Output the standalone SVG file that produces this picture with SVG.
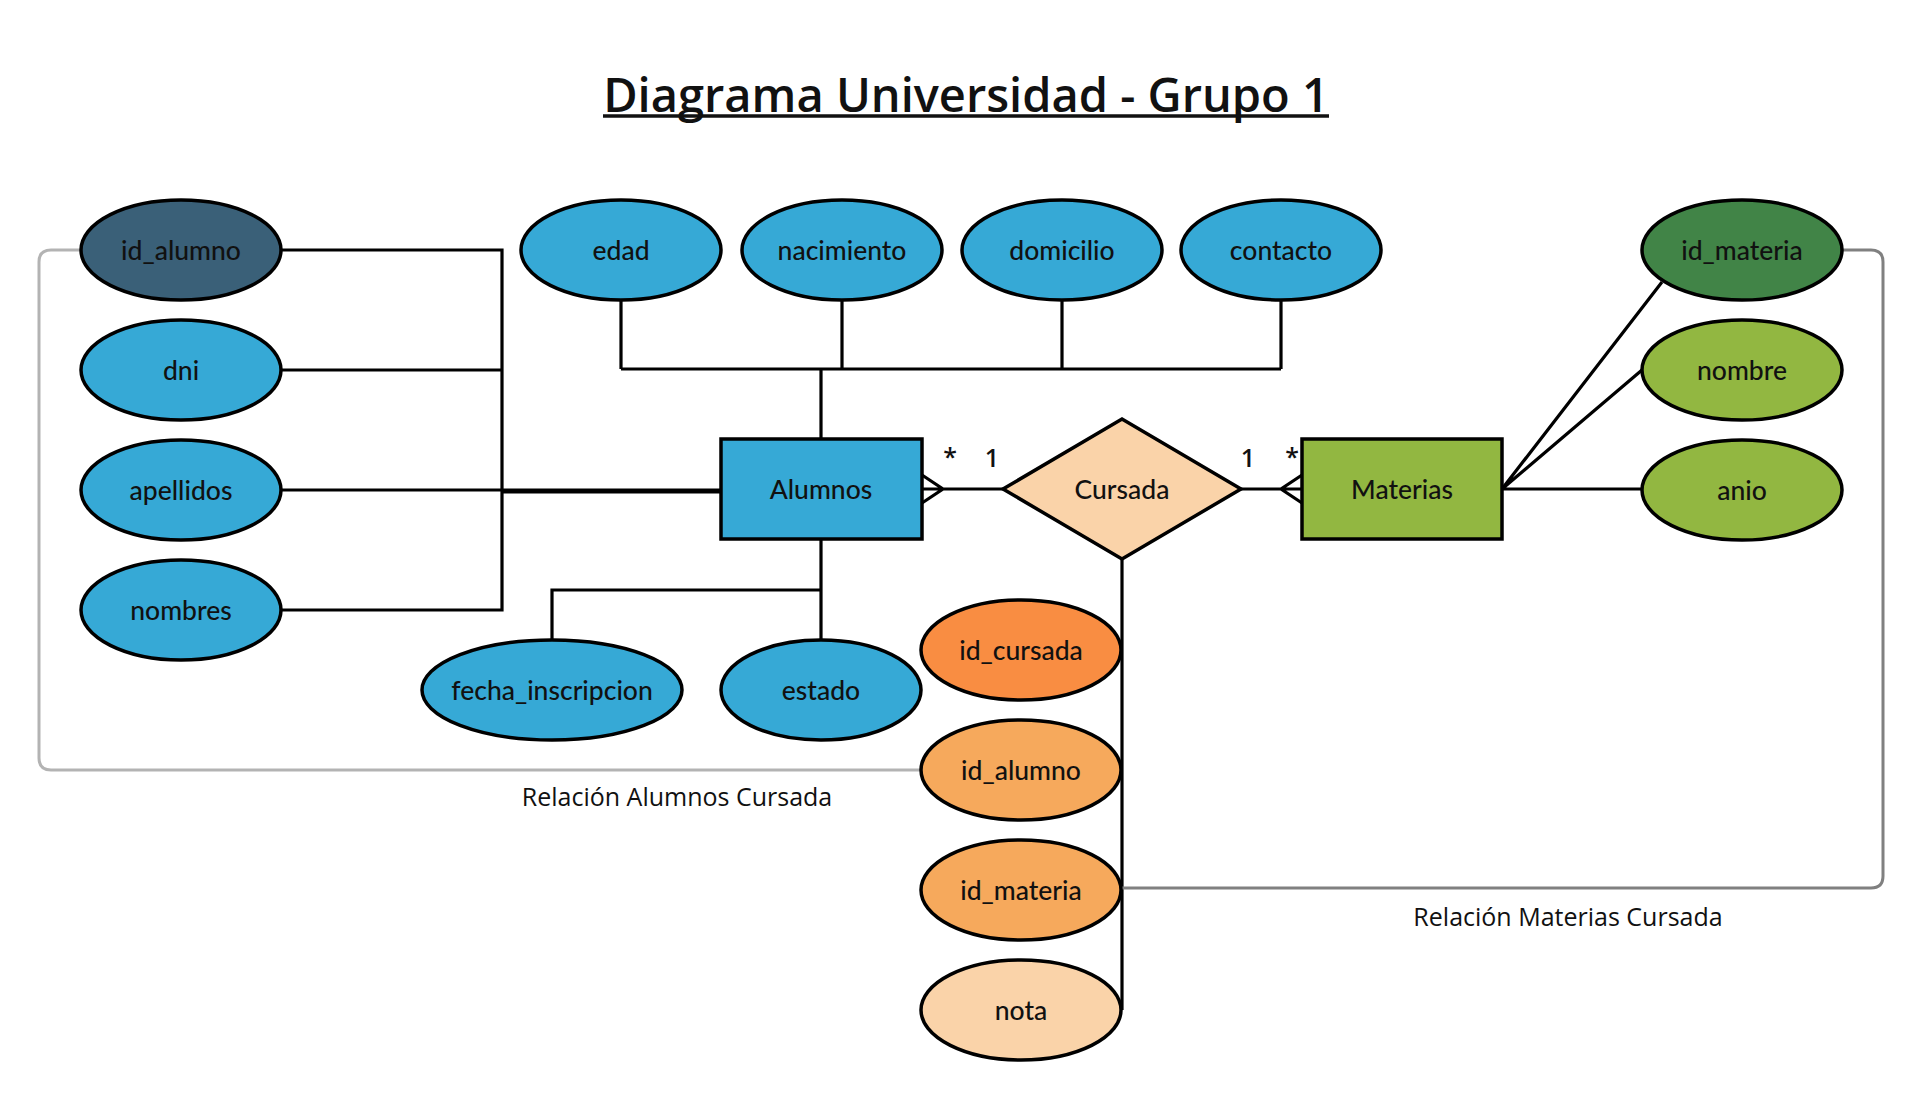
<svg xmlns="http://www.w3.org/2000/svg" width="1922" height="1100" viewBox="0 0 1922 1100">
<style>
.n{stroke:#000;stroke-width:3.5}
.lbl{font-family:Lato,"Liberation Sans",sans-serif;font-size:26.5px;font-weight:500;fill:#111;text-anchor:middle;dominant-baseline:central}
.ln{fill:none;stroke:#000;stroke-width:3.2}
.g1{fill:none;stroke:#b3b3b3;stroke-width:3}
.g2{fill:none;stroke:#808080;stroke-width:3}
.rel{font-family:"Open Sans","Noto Sans",sans-serif;font-size:25px;font-weight:500;fill:#111;text-anchor:middle}
.card{font-family:"Open Sans","Noto Sans",sans-serif;font-size:25px;font-weight:600;fill:#111;text-anchor:middle}
.blue{fill:#36a9d6}.dblue{fill:#3a6078}.dgreen{fill:#418447}.lgreen{fill:#92b741}
.or1{fill:#f98d42}.or2{fill:#f6a95c}.or3{fill:#fad3a9}
</style>
<rect width="1922" height="1100" fill="#fff"/>
<text x="966" y="112" font-family="'Open Sans','Noto Sans',sans-serif" font-size="47" font-weight="600" text-anchor="middle" fill="#111">Diagrama Universidad - Grupo 1</text>
<line x1="603" y1="116" x2="1329" y2="116" stroke="#111" stroke-width="3.5"/>

<g id="connectors">
<path class="ln" d="M282 250H502V610H282M282 370H502M282 490H721M502 492H721"/>
<path class="ln" d="M621 300V369M842 300V369M1062 300V369M1281 300V369M621 369H1281M821 369V439"/>
<path class="ln" d="M821 539V639M821 590H552V639"/>
<path class="ln" d="M922 489H1003M922 475L943 489L922 503"/>
<path class="ln" d="M1241 489H1302M1302 475L1281 489L1302 503"/>
<path class="ln" d="M1122 559V1010"/>
<path class="ln" d="M1502 489L1662 282M1502 489L1642 370M1502 489H1642"/>
<path class="g1" d="M80 250H51Q39 250 39 262V758Q39 770 51 770H921"/>
<path class="g2" d="M1842 250H1871Q1883 250 1883 262V876Q1883 888 1871 888H1122"/>
</g>
<text class="card" x="950" y="466">*</text>
<text class="card" x="992" y="467">1</text>
<text class="card" x="1248" y="467">1</text>
<text class="card" x="1292" y="466">*</text>
<text class="rel" x="677" y="806">Relación Alumnos Cursada</text>
<text class="rel" x="1568" y="926">Relación Materias Cursada</text>

<g id="id_alumno"><ellipse class="n dblue" cx="181" cy="250" rx="100" ry="50"/><text class="lbl" x="181" y="250">id_alumno</text></g>
<g id="dni"><ellipse class="n blue" cx="181" cy="370" rx="100" ry="50"/><text class="lbl" x="181" y="370">dni</text></g>
<g id="apellidos"><ellipse class="n blue" cx="181" cy="490" rx="100" ry="50"/><text class="lbl" x="181" y="490">apellidos</text></g>
<g id="nombres"><ellipse class="n blue" cx="181" cy="610" rx="100" ry="50"/><text class="lbl" x="181" y="610">nombres</text></g>
<g id="edad"><ellipse class="n blue" cx="621" cy="250" rx="100" ry="50"/><text class="lbl" x="621" y="250">edad</text></g>
<g id="nacimiento"><ellipse class="n blue" cx="842" cy="250" rx="100" ry="50"/><text class="lbl" x="842" y="250">nacimiento</text></g>
<g id="domicilio"><ellipse class="n blue" cx="1062" cy="250" rx="100" ry="50"/><text class="lbl" x="1062" y="250">domicilio</text></g>
<g id="contacto"><ellipse class="n blue" cx="1281" cy="250" rx="100" ry="50"/><text class="lbl" x="1281" y="250">contacto</text></g>
<g id="fecha_inscripcion"><ellipse class="n blue" cx="552" cy="690" rx="130" ry="50"/><text class="lbl" x="552" y="690">fecha_inscripcion</text></g>
<g id="estado"><ellipse class="n blue" cx="821" cy="690" rx="100" ry="50"/><text class="lbl" x="821" y="690">estado</text></g>
<g id="Alumnos"><rect class="n blue" x="721" y="439" width="201" height="100"/><text class="lbl" x="821" y="489">Alumnos</text></g>
<g id="Cursada"><polygon class="n or3" points="1003,489 1122,419 1241,489 1122,559"/><text class="lbl" x="1122" y="489">Cursada</text></g>
<g id="Materias"><rect class="n lgreen" x="1302" y="439" width="200" height="100"/><text class="lbl" x="1402" y="489">Materias</text></g>
<g id="id_materia"><ellipse class="n dgreen" cx="1742" cy="250" rx="100" ry="50"/><text class="lbl" x="1742" y="250">id_materia</text></g>
<g id="nombre"><ellipse class="n lgreen" cx="1742" cy="370" rx="100" ry="50"/><text class="lbl" x="1742" y="370">nombre</text></g>
<g id="anio"><ellipse class="n lgreen" cx="1742" cy="490" rx="100" ry="50"/><text class="lbl" x="1742" y="490">anio</text></g>
<g id="id_cursada"><ellipse class="n or1" cx="1021" cy="650" rx="100" ry="50"/><text class="lbl" x="1021" y="650">id_cursada</text></g>
<g id="cursada_id_alumno"><ellipse class="n or2" cx="1021" cy="770" rx="100" ry="50"/><text class="lbl" x="1021" y="770">id_alumno</text></g>
<g id="cursada_id_materia"><ellipse class="n or2" cx="1021" cy="890" rx="100" ry="50"/><text class="lbl" x="1021" y="890">id_materia</text></g>
<g id="nota"><ellipse class="n or3" cx="1021" cy="1010" rx="100" ry="50"/><text class="lbl" x="1021" y="1010">nota</text></g>
</svg>
